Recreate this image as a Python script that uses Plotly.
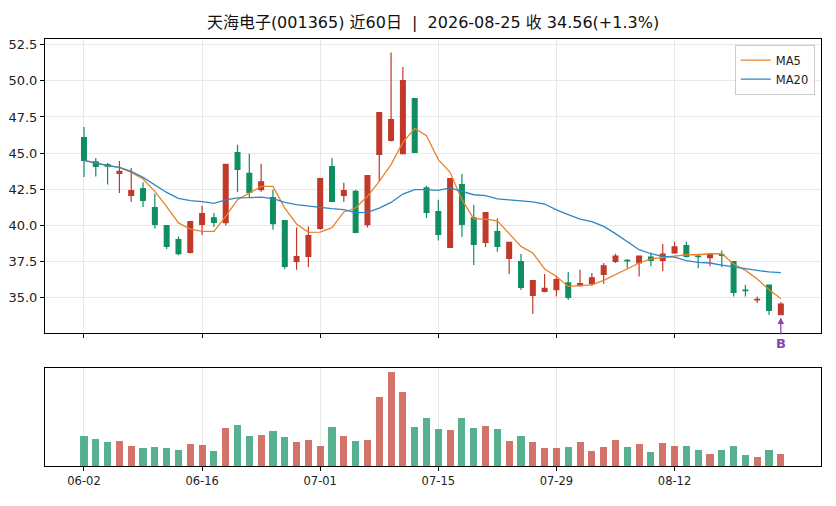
import plotly.graph_objects as go

dates = ["06-02","06-03","06-04","06-05","06-08","06-09","06-10","06-11","06-12","06-15",
         "06-16","06-17","06-18","06-22","06-23","06-24","06-25","06-26","06-29","06-30",
         "07-01","07-02","07-03","07-06","07-07","07-08","07-09","07-10","07-13","07-14",
         "07-15","07-16","07-17","07-20","07-21","07-22","07-23","07-24","07-27","07-28",
         "07-29","07-30","07-31","08-03","08-04","08-05","08-06","08-07","08-10","08-11",
         "08-12","08-13","08-14","08-17","08-18","08-19","08-20","08-21","08-24","08-25"]

opens = [46.07,44.39,44.20,43.60,42.08,42.54,41.23,39.98,39.01,38.13,
         40.07,40.53,40.19,45.03,43.60,42.47,41.92,40.33,37.51,37.86,
         39.79,44.06,42.08,42.35,40.05,44.91,45.88,44.96,48.76,42.59,
         40.95,38.48,42.82,40.53,38.83,39.57,37.72,37.49,35.16,35.44,
         35.55,36.02,35.83,35.97,36.61,37.51,37.58,37.40,37.81,37.58,
         38.09,38.60,37.88,37.77,37.97,37.49,35.53,34.84,35.88,33.82]
highs = [46.81,44.66,44.32,44.45,43.97,42.98,42.19,40.00,39.24,40.28,
         41.36,40.86,44.25,45.58,44.96,44.27,42.47,40.35,39.86,39.93,
         43.25,44.66,42.95,42.47,43.46,47.82,51.95,50.96,48.78,42.75,
         41.78,43.25,43.56,41.43,40.90,40.49,38.85,38.02,36.20,36.64,
         36.54,36.78,36.94,36.71,37.40,38.04,37.68,37.90,38.13,38.71,
         38.87,38.87,38.04,38.04,38.27,37.50,35.88,35.09,35.90,34.70]
lows = [43.35,43.39,42.82,42.24,41.62,41.27,39.79,38.37,37.93,38.05,
        39.34,39.89,40.00,42.31,41.90,42.33,39.70,36.99,36.94,37.10,
        39.70,41.62,41.62,39.45,39.86,43.04,45.81,44.91,45.00,40.51,
        38.96,38.44,39.20,37.26,38.51,38.18,36.64,35.53,33.87,35.37,
        35.09,34.84,35.78,35.83,35.97,37.40,37.03,36.47,37.17,36.85,
        38.04,37.77,37.03,37.17,37.12,35.09,35.09,34.63,33.80,33.80]
closes = [44.50,44.08,44.10,43.74,42.40,41.73,40.07,38.55,38.04,40.26,
          40.81,40.21,44.22,43.88,42.28,43.02,40.12,37.17,37.84,39.29,
          43.23,41.66,42.40,39.52,43.44,47.80,47.31,50.01,45.05,40.90,
          39.38,43.23,40.07,38.69,40.88,38.55,38.83,35.71,36.18,35.64,
          36.25,35.02,35.97,36.38,37.21,37.88,37.54,37.88,37.58,38.02,
          38.51,37.86,37.84,38.02,37.93,35.37,35.49,34.88,34.12,34.56]

ma5 = [44.50,44.32,44.13,44.01,43.67,43.21,42.35,41.30,40.17,39.75,
       39.59,39.59,40.62,41.78,42.24,42.70,42.70,41.20,40.10,39.52,
       39.53,39.84,40.93,41.20,42.01,43.04,44.20,45.74,46.71,46.21,
       44.55,43.67,41.78,40.46,40.44,40.31,39.43,38.55,38.09,36.99,
       36.47,35.78,35.83,35.88,36.20,36.59,36.99,37.40,37.68,37.79,
       37.91,37.97,37.97,38.04,38.04,37.33,36.89,36.29,35.55,34.95]
ma20 = [44.50,44.32,44.13,44.01,43.74,43.32,42.82,42.28,41.87,41.71,
        41.64,41.52,41.76,41.90,41.92,41.96,41.85,41.59,41.43,41.32,
        41.25,41.16,41.09,40.88,40.90,41.20,41.59,42.17,42.47,42.47,
        42.42,42.59,42.38,42.12,42.06,41.83,41.76,41.71,41.62,41.48,
        41.07,40.74,40.44,40.26,39.93,39.43,38.87,38.32,38.04,37.86,
        37.81,37.56,37.44,37.40,37.26,37.12,36.99,36.89,36.78,36.73]

volumes = [3030,2730,2430,2530,2030,1830,1930,1830,1630,2230,
           2130,1530,3830,4130,3030,3130,3530,2930,2430,2630,
           2030,3930,3030,2530,2630,6930,9430,7430,3930,4830,
           3730,3630,4830,3830,4030,3730,2530,3030,2430,1830,
           1830,1930,2430,1530,1930,2630,1930,2230,1430,2330,
           2030,2030,1630,1230,1630,2030,1130,930,1630,1230]

stock_name = "天海电子(001365)"
signal_idx = 59
signal_text = "B"

UP = "#c0392b"
DOWN = "#0f8f5f"
UP_V = "rgba(192,57,43,0.7)"
DOWN_V = "rgba(15,143,95,0.7)"

idx = list(range(len(dates)))
vol_colors = [UP_V if c >= o else DOWN_V for o, c in zip(opens, closes)]

fig = go.Figure()
fig.add_trace(go.Candlestick(
    x=idx, open=opens, high=highs, low=lows, close=closes,
    increasing=dict(line=dict(color=UP, width=1.2), fillcolor=UP),
    decreasing=dict(line=dict(color=DOWN, width=1.2), fillcolor=DOWN),
    whiskerwidth=0, showlegend=False, xaxis="x", yaxis="y"))
fig.add_trace(go.Scatter(x=idx, y=ma5, mode="lines", name="MA5",
                         line=dict(color="#e8832a", width=1.3), xaxis="x", yaxis="y"))
fig.add_trace(go.Scatter(x=idx, y=ma20, mode="lines", name="MA20",
                         line=dict(color="#2f86c3", width=1.3), xaxis="x", yaxis="y"))
fig.add_trace(go.Bar(x=idx, y=volumes, marker=dict(color=vol_colors, line=dict(width=0)),
                     width=0.6, showlegend=False, xaxis="x2", yaxis="y2"))

pct = (closes[-1] / closes[-2] - 1) * 100
sep = "\u00a0\u00a0|\u00a0\u00a0"
title = f"{stock_name} 近{len(dates)}日{sep}2026-{dates[-1]} 收 {closes[-1]:.2f}({pct:+.1f}%)"

tickvals = list(range(0, len(dates), 10))
ticktext = [dates[i] for i in tickvals]

axis_common = dict(showline=True, linecolor="black", linewidth=1, mirror=True,
                   ticks="outside", ticklen=4, tickcolor="black", zeroline=False,
                   automargin=False)

fig.update_layout(
    width=820, height=490,
    margin=dict(l=37, r=7, t=31, b=32, autoexpand=False),
    paper_bgcolor="white", plot_bgcolor="white",
    font=dict(family="DejaVu Sans", size=12, color="#222222"),
    title=dict(text=title, x=0.5, xref="paper", y=1 - 14 / 490, yanchor="middle",
               font=dict(family="DejaVu Sans, Noto Sans CJK SC", size=16, color="#111111")),
    boxgap=0.42,
    bargap=0,
    showlegend=True,
    legend=dict(x=0.992, y=0.987, xanchor="right", yanchor="top",
                bgcolor="rgba(255,255,255,0.85)", bordercolor="#cccccc", borderwidth=1,
                font=dict(family="DejaVu Sans", size=11.5), itemwidth=30, tracegroupgap=0),
    xaxis=dict(domain=[0, 1], anchor="y", range=[-3.3, 62.4], tickvals=tickvals,
               ticktext=ticktext, showticklabels=False, showgrid=True,
               gridcolor="#e8e8e8", gridwidth=0.8, rangeslider=dict(visible=False),
               **axis_common),
    yaxis=dict(domain=[0.3115, 1], anchor="x", range=[32.56, 52.89],
               tickvals=[35, 37.5, 40, 42.5, 45, 47.5, 50, 52.5], tickformat=".1f",
               tickfont=dict(family="DejaVu Sans", size=13),
               showgrid=True, gridcolor="#e8e8e8", gridwidth=0.8, **axis_common),
    xaxis2=dict(domain=[0, 1], anchor="y2", range=[-3.3, 62.4], tickvals=tickvals,
                ticktext=ticktext, tickfont=dict(family="DejaVu Sans", size=11.5),
                showgrid=True, gridcolor="#e8e8e8", gridwidth=0.8, **axis_common),
    yaxis2=dict(domain=[0, 0.2295], anchor="x2", range=[0, 9800], showgrid=False,
                showticklabels=False, showline=True, linecolor="black", linewidth=1,
                mirror=True, ticks="", zeroline=False, automargin=False),
)

fig.add_annotation(x=signal_idx, y=lows[signal_idx] - 0.1, xref="x", yref="y",
                   text=f"<b>{signal_text}</b>", showarrow=True, ax=0, ay=27,
                   arrowhead=2, arrowsize=1, arrowwidth=1.3, arrowcolor="#8e44ad",
                   standoff=1, font=dict(family="DejaVu Sans", size=13, color="#8e44ad"))

fig.write_html("out.html")
